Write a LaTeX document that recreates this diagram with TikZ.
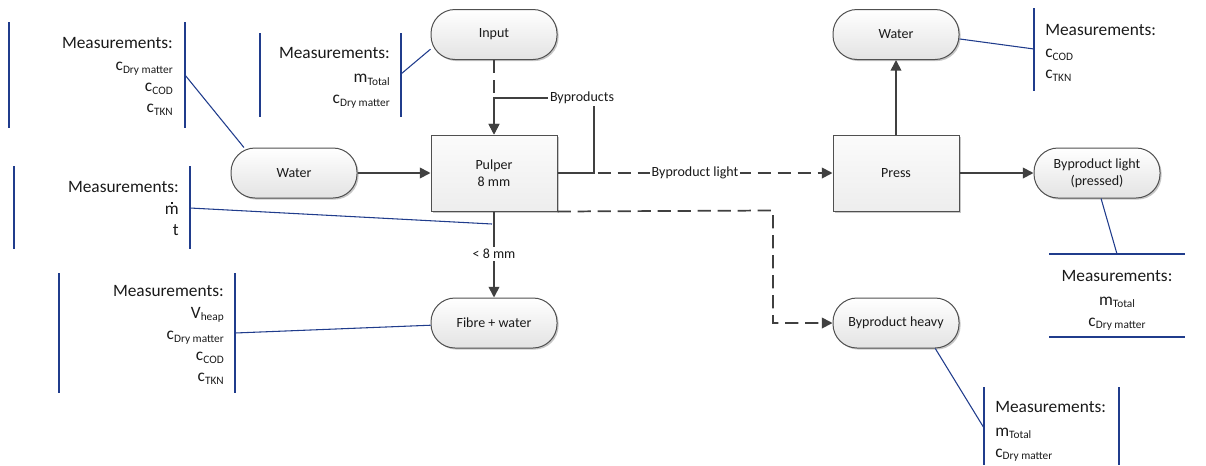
\documentclass[tikz,border=0pt]{standalone}
\usepackage{fontspec}
\setmainfont{Carlito}
\usetikzlibrary{arrows.meta,shadows}
\definecolor{lineg}{HTML}{404040}
\definecolor{edgeg}{HTML}{505050}
\definecolor{annob}{HTML}{203C8C}
\definecolor{txt}{HTML}{1A1A1A}
% quantity with a lowered subscript label
\newcommand{\msub}[2]{{\fontsize{13}{15.75}\selectfont #1}\raisebox{-2.2pt}{\fontsize{8.5}{10}\selectfont #2}}
% m with a dot centred above it (mass flow)
\newsavebox{\mglyphbox}
\newcommand{\mdotm}{\leavevmode\sbox{\mglyphbox}{m}%
  \rlap{\hbox to \wd\mglyphbox{\hss\smash{\raisebox{0.6em}{\rule{1.4pt}{1.4pt}}}\hss}}m}
\tikzset{
  term/.style={rectangle, rounded corners=18pt, draw=edgeg, line width=0.75pt,
    minimum width=94.5pt, minimum height=37.5pt, top color=white, bottom color=gray!22,
    drop shadow={shadow xshift=1.2pt, shadow yshift=-1.2pt, fill=black, opacity=0.22},
    font=\fontsize{10.5}{12.6}\selectfont, text=txt, align=center, inner sep=0pt},
  proc/.style={rectangle, draw=edgeg, line width=0.75pt,
    minimum width=94.5pt, minimum height=57pt, top color=gray!3, bottom color=gray!14,
    drop shadow={shadow xshift=1.2pt, shadow yshift=-1.2pt, fill=black, opacity=0.22},
    font=\fontsize{10.5}{12.6}\selectfont, text=txt, align=center, inner sep=0pt},
  flow/.style={draw=lineg, line width=1.3pt, -{Triangle[length=8pt,width=8pt]}},
  dashflow/.style={flow, dash pattern=on 10pt off 5pt},
  solidline/.style={draw=lineg, line width=1.3pt},
  lbl/.style={fill=white, inner sep=1.5pt, font=\fontsize{10.5}{12.6}\selectfont, text=txt},
  bracketline/.style={draw=annob, line width=0.9pt},
  leader/.style={draw=annob, line width=0.8pt},
  meas/.style={inner sep=0pt, text=txt, font=\fontsize{13}{15.75}\selectfont},
}
\begin{document}
\begin{tikzpicture}[x=0.75pt,y=-0.75pt]
\useasboundingbox (0,0) rectangle (1206,465);

% process nodes
\node[term] (input)  at (494,34.5) {Input};
\node[proc] (pulper) at (494,173) {Pulper\\8 mm};
\node[term] (water1) at (294,173) {Water};
\node[proc] (press)  at (896,173) {Press};
\node[term] (water2) at (896,34.5) {Water};
\node[term] (pressed) at (1097,173) {Byproduct light\\(pressed)};
\node[term] (fibre)  at (494,323) {Fibre + water};
\node[term] (heavy)  at (896,323) {Byproduct heavy};

% flows
\draw[flow] (water1.east) -- (pulper.west);
\draw[dashflow] (input.south) -- (pulper.north);
\coordinate (bycorner) at (594,98);
\draw[flow] (pulper.east) -| (bycorner) -| (pulper.north);
\node[lbl] (bylbl) at (582,98) {Byproducts};
\draw[dashflow] (pulper.east) -- (press.west);
\draw[solidline] (pulper.east) -- (pulper.east -| bycorner);
\node[lbl] (lightlbl) at (695,173) {Byproduct light};
\coordinate (heavyturn) at (773,210.5);
\draw[dashflow] (pulper.south east) -- (heavyturn) |- (heavy.west);
\draw[flow] (pulper.south) -- (fibre.north);
\node[lbl] (sizelbl) at (494,254) {< 8 mm};
\draw[flow] (press.north) -- (water2.south);
\draw[flow] (press.east) -- (pressed.west);

% measurement annotations
\draw[bracketline] (9,22) -- (9,128);
\draw[bracketline] (185,22) -- (185,128);
\node[meas, anchor=north east, align=right] (m1) at (173,37)
  {Measurements:\\[1pt]\msub{c}{Dry matter}\\\msub{c}{COD}\\\msub{c}{TKN}};
\coordinate (l1) at (185,75);
\draw[leader] (l1) -- (water1.153);

\draw[bracketline] (260,33) -- (260,117);
\draw[bracketline] (401,33) -- (401,117);
\node[meas, anchor=north east, align=right] (m2) at (390,47)
  {Measurements:\\[2.5pt]\msub{m}{Total}\\\msub{c}{Dry matter}};
\coordinate (l2) at (401,74);
\draw[leader] (l2) -- (input.193);

\draw[bracketline] (14,166) -- (14,249);
\draw[bracketline] (190,166) -- (190,249);
\node[meas, anchor=north east, align=right] (m3) at (179,181)
  {Measurements:\\[0.5pt]\mdotm\\t};
\coordinate (l3) at (190,208);
\coordinate (l3b) at (492,224);
\draw[leader] (l3) -- (l3b);

\draw[bracketline] (59,273) -- (59,393);
\draw[bracketline] (235,273) -- (235,393);
\node[meas, anchor=north east, align=right] (m4) at (224,285)
  {Measurements:\\[0.5pt]\msub{V}{heap}\\[0.5pt]\msub{c}{Dry matter}\\\msub{c}{COD}\\\msub{c}{TKN}};
\coordinate (l4) at (235,333);
\draw[leader] (l4) -- (fibre.182);

\draw[bracketline] (1034,8) -- (1034,91);
\node[meas, anchor=north west, align=left] (m5) at (1045,24)
  {Measurements:\\[1pt]\msub{c}{COD}\\\msub{c}{TKN}};
\coordinate (l5) at (1034,49);
\draw[leader] (water2.-4) -- (l5);

\draw[bracketline] (1049,254) -- (1185,254);
\draw[bracketline] (1049,337) -- (1185,337);
\node[meas, anchor=north, align=center] (m6) at (1117,270)
  {Measurements:\\[2pt]\msub{m}{Total}\\\msub{c}{Dry matter}};
\coordinate (l6) at (1117,254);
\draw[leader] (pressed.-81) -- (l6);

\draw[bracketline] (984,387) -- (984,465);
\draw[bracketline] (1119,387) -- (1119,465);
\node[meas, anchor=north west, align=left] (m7) at (995,401)
  {Measurements:\\[2pt]\msub{m}{Total}\\\msub{c}{Dry matter}};
\coordinate (l7) at (984,428);
\draw[leader] (heavy.-33) -- (l7);
\end{tikzpicture}
\end{document}
